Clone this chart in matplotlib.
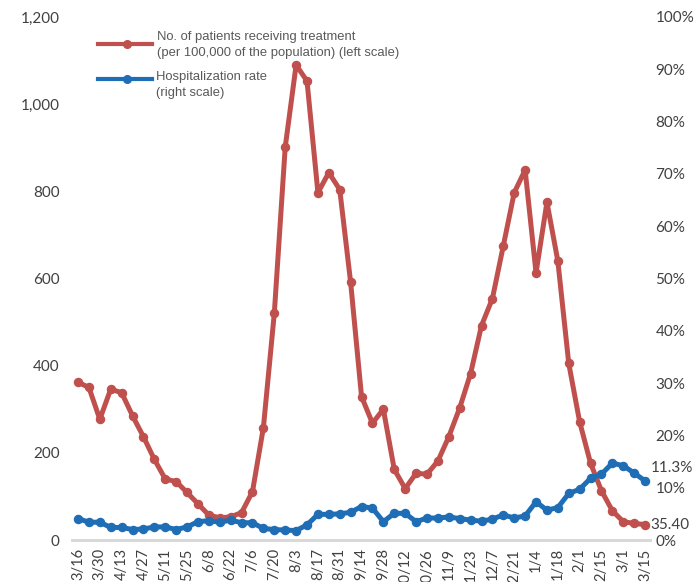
import matplotlib
matplotlib.use("Agg")
import matplotlib.pyplot as plt
from matplotlib.lines import Line2D

# weekly data, 3/16 -> 3/15 of the following year
tick_labels = ["3/16", "3/30", "4/13", "4/27", "5/11", "5/25", "6/8", "6/22", "7/6",
               "7/20", "8/3", "8/17", "8/31", "9/14", "9/28", "10/12", "10/26", "11/9",
               "11/23", "12/7", "12/21", "1/4", "1/18", "2/1", "2/15", "3/1", "3/15"]

patients = [362, 350, 277, 346, 338, 285, 237, 185, 140, 134, 109, 83, 57, 51, 53, 63,
            111, 258, 520, 901, 1090, 1053, 797, 843, 804, 591, 329, 268, 300, 162, 118,
            153, 151, 181, 237, 303, 382, 492, 554, 675, 797, 849, 613, 775, 640, 405,
            271, 176, 113, 67, 42, 38, 35.4]

hosp_rate = [4.1, 3.4, 3.4, 2.4, 2.4, 2.0, 2.1, 2.5, 2.5, 2.0, 2.5, 3.5, 3.7, 3.4, 3.8,
             3.3, 3.3, 2.2, 2.0, 1.9, 1.8, 2.9, 4.9, 4.9, 5.0, 5.3, 6.4, 6.1, 3.5, 5.1,
             5.1, 3.5, 4.2, 4.2, 4.4, 4.1, 3.8, 3.6, 4.0, 4.8, 4.2, 4.6, 7.3, 5.7, 6.2,
             8.9, 9.7, 11.8, 12.6, 14.7, 14.2, 12.8, 11.3]

legend_lines = [["No. of patients receiving treatment",
                 "(per 100,000 of the population) (left scale)"],
                ["Hospitalization rate", "(right scale)"]]

RED = "#C0504D"
BLUE = "#1F6EB5"
TXT = "#404040"
W, H = 699, 582

x = list(range(len(patients)))

fig = plt.figure(figsize=(6.99, 5.82), dpi=100)
ax = fig.add_axes([72 / W, 42 / H, 578 / W, 523 / H])
ax2 = ax.twinx()

ax.plot(x, patients, color=RED, lw=3.6, marker="o", ms=5.8, zorder=3)
ax2.plot(x, [v / 100 for v in hosp_rate], color=BLUE, lw=3.6, marker="o", ms=5.8, zorder=3)

ax.set_xlim(-0.55, 52.45)
ax.set_ylim(0, 1200)
ax2.set_ylim(0, 1)

ax.set_yticks(range(0, 1201, 200))
ax.set_yticklabels([f"{v:,}" for v in range(0, 1201, 200)], fontsize=11,
                   color=TXT, family="Lato")
ax2.set_yticks([i / 10 for i in range(11)])
ax2.set_yticklabels([f"{i * 10}%" for i in range(11)], fontsize=11,
                    color=TXT, family="Lato")
ax.set_xticks(x[::2])
ax.set_xticklabels(tick_labels, rotation=90, fontsize=10.5, color=TXT, family="Lato",
                   va="top")

for a in (ax, ax2):
    for s in ("top", "left", "right"):
        a.spines[s].set_visible(False)
    a.spines["bottom"].set_color("#d9d9d9")
    a.spines["bottom"].set_linewidth(2)
    a.tick_params(length=0)
ax.tick_params(axis="y", pad=9)
ax.tick_params(axis="x", pad=6)
ax2.tick_params(axis="y", pad=4)

ax2.annotate("11.3%", xy=(x[-1], hosp_rate[-1] / 100), xytext=(4, 4),
             textcoords="offset points", fontsize=11, color=TXT, family="Lato",
             va="bottom", ha="left")
ax.annotate("35.40", xy=(x[-1], patients[-1]), xytext=(4, 0),
            textcoords="offset points", fontsize=11, color=TXT, family="Lato",
            va="center", ha="left")

# hand-placed legend (pixel rows from the top of the figure)
for (lines, col, hy, ty, tx) in [(legend_lines[0], RED, 44, 37, 157),
                                  (legend_lines[1], BLUE, 79, 77, 156)]:
    fig.add_artist(Line2D([98 / W, 152 / W], [1 - hy / H] * 2, color=col, lw=3))
    fig.add_artist(Line2D([127 / W], [1 - hy / H], color=col, marker="o", ms=5.5))
    for i, t in enumerate(lines):
        fig.text(tx / W, 1 - (ty + 16 * i) / H, t, fontsize=9.4, color="#595959",
                 family="Liberation Sans", va="center", ha="left")

fig.savefig("out.png", dpi=100)
